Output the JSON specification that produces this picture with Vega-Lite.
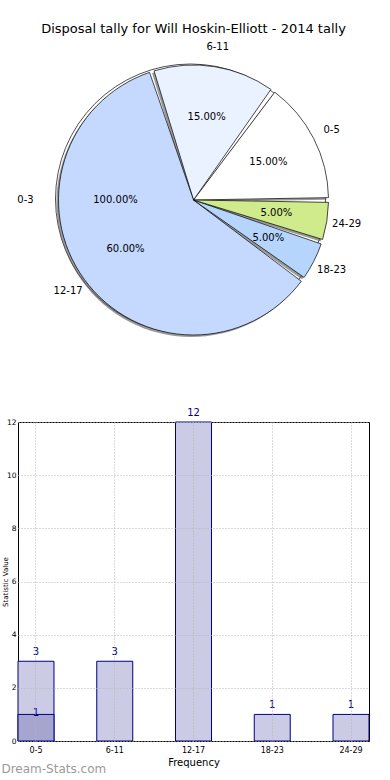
{
  "$schema": "https://vega.github.io/schema/vega-lite/v6.json",
  "padding": {"left": 0, "top": 22, "right": 0, "bottom": 0},
  "background": "white",
  "config": {"font": "DejaVu Sans", "view": {"stroke": null}},
  "datasets": {
    "pie": [
      {"range": "0-5", "count": 3, "pct": "15.00%", "idx": 1},
      {"range": "6-11", "count": 3, "pct": "15.00%", "idx": 2},
      {"range": "12-17", "count": 12, "pct": "60.00%", "idx": 3},
      {"range": "18-23", "count": 1, "pct": "5.00%", "idx": 4},
      {"range": "24-29", "count": 1, "pct": "5.00%", "idx": 5}
    ],
    "ghost": [
      {"range": "0-3", "count": 20, "pct": "100.00%", "idx": 0}
    ],
    "bars": [
      {"range": "0-5", "value": 3},
      {"range": "6-11", "value": 3},
      {"range": "12-17", "value": 12},
      {"range": "18-23", "value": 1},
      {"range": "24-29", "value": 1}
    ],
    "bars2": [
      {"range": "0-5", "value": 1}
    ]
  },
  "spacing": 72,
  "bounds": "flush",
  "vconcat": [
    {
      "width": 351,
      "height": 300,
      "view": {"stroke": null},
      "title": {"text": "Disposal tally for Will Hoskin-Elliott - 2014 tally", "fontSize": 13, "fontWeight": "normal", "offset": 6, "anchor": "middle", "color": "black"},
      "layer": [
        {
          "data": {"name": "ghost"},
          "mark": {"type": "arc", "radius": 135, "fill": "white", "stroke": "#222222", "strokeWidth": 0.8, "xOffset": -3, "yOffset": -1},
          "encoding": {
            "theta": {"field": "count", "type": "quantitative", "stack": true, "scale": {"range": [1.5708, -4.7124]}},
            "detail": {"field": "range"}
          }
        },
        {
          "data": {"name": "pie"},
          "mark": {"type": "arc", "radius": 135, "fill": "#555555", "opacity": 0.6, "xOffset": -2, "yOffset": 2, "padAngle": 0.035},
          "encoding": {
            "theta": {"field": "count", "type": "quantitative", "stack": true},
            "order": {"field": "idx", "type": "quantitative"},
            "detail": {"field": "range"}
          }
        },
        {
          "data": {"name": "pie"},
          "mark": {"type": "arc", "radius": 135, "stroke": "black", "strokeWidth": 0.7, "padAngle": 0.035},
          "encoding": {
            "theta": {"field": "count", "type": "quantitative", "stack": true},
            "order": {"field": "idx", "type": "quantitative"},
            "color": {"field": "range", "type": "nominal", "legend": null,
              "scale": {"domain": ["0-5", "6-11", "12-17", "18-23", "24-29"], "range": ["#ffffff", "#eaf1ff", "#c5d9ff", "#b5d5fd", "#cfeb8b"]}}
          }
        },
        {
          "data": {"name": "pie"},
          "mark": {"type": "text", "radius": 155, "fontSize": 10, "color": "black"},
          "encoding": {
            "theta": {"field": "count", "type": "quantitative", "stack": true},
            "order": {"field": "idx", "type": "quantitative"},
            "detail": {"field": "range"},
            "text": {"field": "range"}
          }
        },
        {
          "data": {"name": "pie"},
          "mark": {"type": "text", "radius": 84, "fontSize": 10, "color": "black"},
          "encoding": {
            "theta": {"field": "count", "type": "quantitative", "stack": true},
            "order": {"field": "idx", "type": "quantitative"},
            "detail": {"field": "range"},
            "text": {"field": "pct"}
          }
        },
        {
          "data": {"name": "ghost"},
          "mark": {"type": "text", "radius": 168, "fontSize": 10, "color": "black"},
          "encoding": {
            "theta": {"field": "count", "type": "quantitative", "stack": true},
            "detail": {"field": "range"},
            "text": {"field": "range"}
          }
        },
        {
          "data": {"name": "ghost"},
          "mark": {"type": "text", "radius": 78, "fontSize": 10, "color": "black"},
          "encoding": {
            "theta": {"field": "count", "type": "quantitative", "stack": true},
            "detail": {"field": "range"},
            "text": {"field": "pct"}
          }
        }
      ]
    },
    {
      "width": 351,
      "height": 319,
      "view": {"stroke": "black", "strokeWidth": 1},
      "title": {"text": "Dream-Stats.com", "orient": "bottom", "anchor": "start", "frame": "bounds", "fontSize": 12, "fontWeight": "normal", "color": "#9a9a9a", "offset": -3},
      "encoding": {
        "x": {"field": "range", "type": "nominal", "sort": ["0-5", "6-11", "12-17", "18-23", "24-29"],
          "scale": {"paddingInner": 0.543, "paddingOuter": 0},
          "axis": {"title": "Frequency", "labelAngle": 0, "labelFontSize": 8, "titleFontSize": 10, "titleFontWeight": "normal", "ticks": false, "labelPadding": 5, "titlePadding": 3, "grid": true, "gridDash": [1, 2], "gridColor": "#b5b5b5", "domain": false, "bandPosition": 0.5, "zindex": 1, "labelColor": "black", "titleColor": "black"}},
        "y": {"field": "value", "type": "quantitative", "scale": {"domain": [0, 12], "nice": false},
          "axis": {"title": "Statistic Value", "values": [0, 2, 4, 6, 8, 10, 12], "labelFontSize": 7.5, "titleFontSize": 7, "titleFontWeight": "normal", "titlePadding": -2, "ticks": false, "labelPadding": 2, "grid": true, "gridDash": [1, 2], "gridColor": "#b5b5b5", "domain": false, "zindex": 1, "labelColor": "black", "titleColor": "black"}}
      },
      "layer": [
        {
          "data": {"name": "bars"},
          "mark": {"type": "bar", "fill": "#cbcbe5", "stroke": "#000080", "strokeWidth": 1}
        },
        {
          "data": {"name": "bars2"},
          "mark": {"type": "bar", "fill": "#a5a5d0", "stroke": "#000080", "strokeWidth": 1}
        },
        {
          "data": {"name": "bars"},
          "mark": {"type": "text", "dy": -9, "fontSize": 10, "color": "#000080"},
          "encoding": {"text": {"field": "value"}}
        },
        {
          "data": {"name": "bars2"},
          "mark": {"type": "text", "dy": -1, "fontSize": 10, "color": "#000080"},
          "encoding": {"text": {"field": "value"}}
        }
      ]
    }
  ]
}
